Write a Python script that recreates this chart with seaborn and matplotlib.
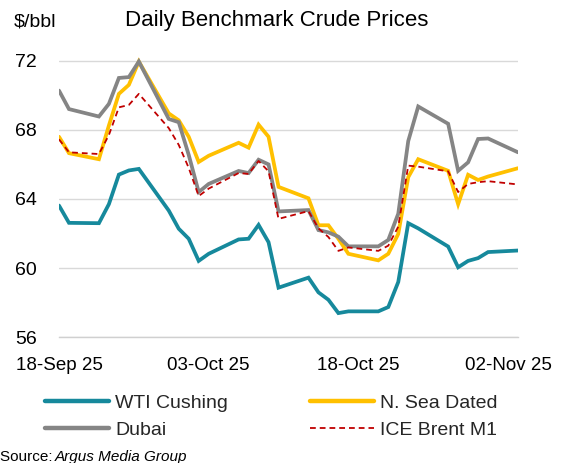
import matplotlib
matplotlib.use("Agg")
import matplotlib.pyplot as plt
import matplotlib.dates as mdates
from matplotlib.lines import Line2D
import pandas as pd
import seaborn as sns

# Trading days
dates = pd.to_datetime([
    "2025-09-18", "2025-09-19", "2025-09-22", "2025-09-23", "2025-09-24", "2025-09-25",
    "2025-09-26", "2025-09-29", "2025-09-30", "2025-10-01", "2025-10-02", "2025-10-03",
    "2025-10-06", "2025-10-07", "2025-10-08", "2025-10-09", "2025-10-10", "2025-10-13",
    "2025-10-14", "2025-10-15", "2025-10-16", "2025-10-17", "2025-10-20", "2025-10-21",
    "2025-10-22", "2025-10-23", "2025-10-24", "2025-10-27", "2025-10-28", "2025-10-29",
    "2025-10-30", "2025-10-31", "2025-11-03",
])

# Prices, $/bbl
wti_cushing = [63.62, 62.62, 62.60, 63.70, 65.41, 65.65, 65.74, 63.33, 62.28, 61.70, 60.42,
               60.83, 61.66, 61.70, 62.50, 61.50, 58.87, 59.45, 58.60, 58.17, 57.40, 57.50,
               57.50, 57.75, 59.20, 62.60, 62.30, 61.25, 60.05, 60.42, 60.58, 60.93, 61.02]
north_sea_dated = [67.60, 66.65, 66.30, 68.25, 70.08, 70.60, 71.95, 68.95, 68.55, 67.60, 66.14,
                   66.50, 67.25, 66.97, 68.30, 67.60, 64.70, 64.04, 62.48, 62.48, 61.70, 60.83,
                   60.45, 60.83, 61.98, 65.26, 66.30, 65.63, 63.70, 65.40, 65.10, 65.30, 65.78]
dubai = [70.27, 69.20, 68.77, 69.50, 71.00, 71.05, 71.95, 68.63, 68.44, 66.55, 64.40,
         64.87, 65.62, 65.50, 66.27, 66.00, 63.28, 63.36, 62.20, 62.07, 61.82, 61.26,
         61.26, 61.63, 63.15, 67.35, 69.35, 68.35, 65.63, 66.12, 67.47, 67.50, 66.70]
ice_brent_m1 = [67.45, 66.70, 66.60, 67.70, 69.30, 69.44, 70.08, 68.10, 67.13, 65.80, 64.17,
                64.60, 65.50, 65.45, 66.20, 65.60, 62.85, 63.30, 62.30, 61.80, 61.00, 61.20,
                61.00, 61.30, 62.40, 65.93, 65.87, 65.60, 64.40, 64.87, 64.97, 65.03, 64.84]

series_names = ["WTI Cushing", "N. Sea Dated", "Dubai", "ICE Brent M1"]
series_values = [wti_cushing, north_sea_dated, dubai, ice_brent_m1]
colors = {"WTI Cushing": "#16899c", "N. Sea Dated": "#ffc000",
          "Dubai": "#858585", "ICE Brent M1": "#c00000"}

y_ticks = [56, 60, 64, 68, 72]
x_ticks = pd.to_datetime(["2025-09-18", "2025-10-03", "2025-10-18", "2025-11-02"])

df = pd.concat(
    [pd.DataFrame({"date": dates, "price": v, "series": n})
     for n, v in zip(series_names, series_values)],
    ignore_index=True,
)

sns.set_theme(style="white")
plt.rcParams["font.family"] = ["Liberation Sans", "DejaVu Sans"]

W, H = 564, 463
fig = plt.figure(figsize=(W / 100, H / 100), dpi=100)
ax_left, ax_right, ax_top, ax_bottom = 59, 518, 50.3, 337.3
ax = fig.add_axes([ax_left / W, 1 - ax_bottom / H,
                   (ax_right - ax_left) / W, (ax_bottom - ax_top) / H])

dash = (0, (3.2, 2.2))
styles = {
    "WTI Cushing": dict(lw=2.7, ls="-"),
    "N. Sea Dated": dict(lw=2.7, ls="-"),
    "Dubai": dict(lw=2.7, ls="-"),
    "ICE Brent M1": dict(lw=1.3, ls=dash),
}
for name in series_names:
    sub = df[df["series"] == name]
    sns.lineplot(data=sub, x="date", y="price", ax=ax, color=colors[name],
                 linewidth=styles[name]["lw"], linestyle=styles[name]["ls"],
                 legend=False, zorder=3, solid_joinstyle="miter")

ax.set_xlim(pd.Timestamp("2025-09-18"), pd.Timestamp("2025-11-03"))
ax.set_ylim(56, 72.6)
ax.set_yticks(y_ticks)
ax.set_xticks(x_ticks)
ax.xaxis.set_major_formatter(mdates.DateFormatter("%d-%b %y"))
ax.set_xlabel("")
ax.set_ylabel("")

ax.grid(axis="y", color="#d9d9d9", linewidth=1.0, zorder=0)
ax.grid(axis="x", visible=False)
for side in ["left", "right", "top"]:
    ax.spines[side].set_visible(False)
ax.spines["bottom"].set_color("#d0d0d0")
ax.spines["bottom"].set_linewidth(1.0)

ax.tick_params(axis="y", length=0, pad=16, labelsize=14, labelcolor="black")
ax.tick_params(axis="x", direction="in", length=5, width=1.0, color="#d0d0d0",
               pad=14, labelsize=13.5, labelcolor="black")

fig.text(277 / W, 1 - 26 / H, "Daily Benchmark Crude Prices", ha="center",
         va="baseline", fontsize=16, color="black")
fig.text(14 / W, 1 - 26 / H, r"\$/bbl", ha="left", va="baseline",
         fontsize=14, color="black")

handles = []
labels = []
for name in ["WTI Cushing", "Dubai", "N. Sea Dated", "ICE Brent M1"]:
    if name == "ICE Brent M1":
        h = Line2D([], [], color=colors[name], lw=1.3, ls=dash)
    else:
        h = Line2D([], [], color=colors[name], lw=3.2, solid_capstyle="round")
    handles.append(h)
    labels.append(name)
fig.legend(handles, labels, ncol=2, loc="upper left",
           bbox_to_anchor=(45 / W, 1 - 394 / H), frameon=False, fontsize=14,
           handlelength=3.3, handletextpad=0.32, columnspacing=4.2,
           labelspacing=0.5, borderpad=0, borderaxespad=0)

fig.text(0, 1 - 450 / H, "Source: ", ha="left", va="top", fontsize=11, color="black")
fig.text(55 / W, 1 - 450 / H, "Argus Media Group", ha="left", va="top",
         fontsize=11, style="italic", color="black")

fig.savefig("out.png", dpi=100)
